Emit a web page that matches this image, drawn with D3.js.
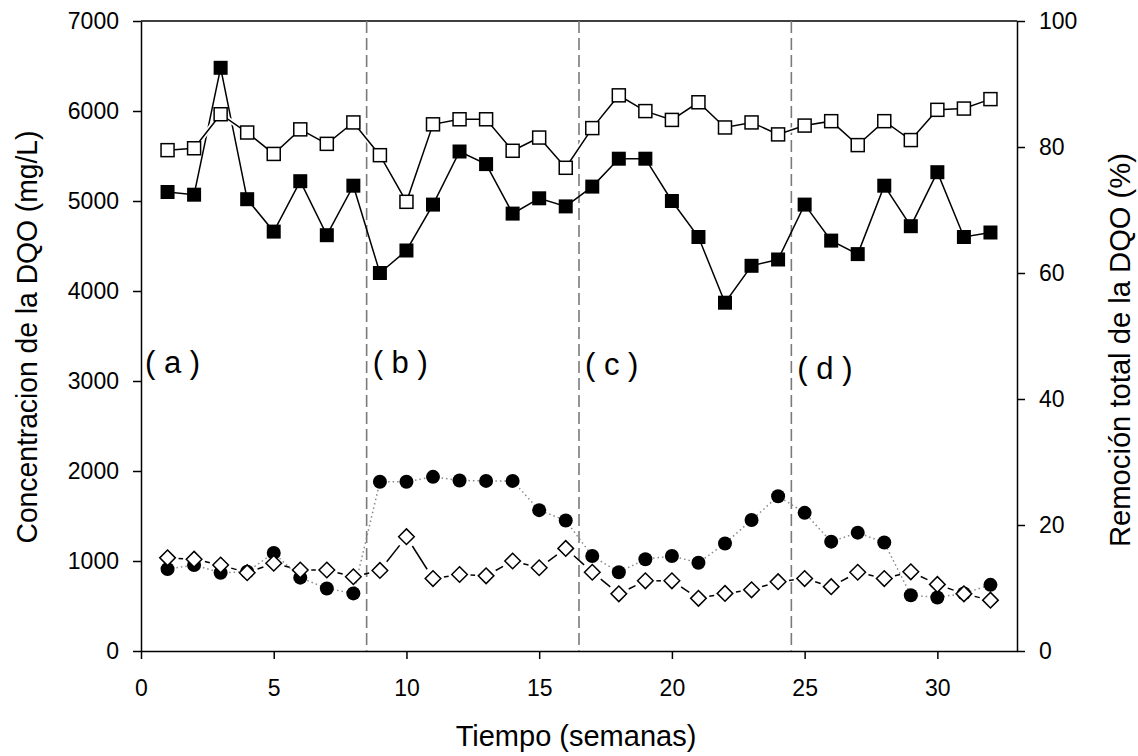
<!DOCTYPE html>
<html>
<head>
<meta charset="utf-8">
<script src="https://cdn.jsdelivr.net/npm/d3@7"></script>
<style>
  html, body { margin: 0; padding: 0; background: #fff; }
  svg text { font-family: "Liberation Sans", Arial, sans-serif; fill: #000; }
</style>
</head>
<body>
<svg id="chart" width="1138" height="756"></svg>
<script>
// ---- data ----
const weeks = [1,2,3,4,5,6,7,8,9,10,11,12,13,14,15,16,17,18,19,20,21,22,23,24,25,26,27,28,29,30,31,32];
// filled squares: influent DQO (mg/L), left axis
const dqoInfluent = [5100,5070,6480,5020,4660,5220,4620,5170,4200,4450,4960,5550,5410,4860,5030,4940,
                     5160,5470,5470,5000,4600,3870,4280,4350,4960,4560,4410,5170,4720,5320,4600,4650];
// open squares: total DQO removal (%), right axis
const removalPct = [79.5,79.8,85.2,82.3,78.9,82.8,80.5,83.9,78.7,71.3,83.6,84.4,84.4,79.4,81.5,76.7,
                    83.0,88.2,85.7,84.3,87.1,83.1,83.9,82.0,83.4,84.1,80.3,84.1,81.1,85.9,86.1,87.6];
// filled circles: DQO (mg/L), left axis
const dqoCircles = [910,955,870,880,1090,815,695,640,1880,1880,1935,1895,1890,1890,1565,1450,
                    1055,875,1020,1055,980,1195,1455,1720,1535,1215,1315,1205,620,595,640,735];
// open diamonds: DQO (mg/L), left axis
const dqoDiamonds = [1035,1020,955,870,975,900,900,825,895,1270,805,850,835,1000,925,1140,
                     875,635,780,780,585,640,680,770,805,715,875,805,880,740,635,565];
// phase boundaries and labels
const phaseStarts = [0, 8.5, 16.5, 24.5];
const phaseLabels = ["( a )", "( b )", "( c )", "( d )"];
const dividers = [8.5, 16.5, 24.5];
const xTicks = [0,5,10,15,20,25,30];
const yLeftTicks = [0,1000,2000,3000,4000,5000,6000,7000];
const yRightTicks = [0,20,40,60,80,100];

// ---- layout ----
const L = 141, R = 1017, T = 21, B = 651;
const svg = d3.select("#chart");
const x = d3.scaleLinear().domain([0,33]).range([L,R]);
const yL = d3.scaleLinear().domain([0,7000]).range([B,T]);
const yR = d3.scaleLinear().domain([0,100]).range([B,T]);

// frame top line
svg.append("line").attr("x1",L).attr("x2",R).attr("y1",T).attr("y2",T)
   .attr("stroke","#000").attr("stroke-width",1.5);

// axes
function styleAxis(g){
  g.selectAll(".domain").attr("stroke","#000").attr("stroke-width",1.5);
  g.selectAll(".tick line").attr("stroke","#000").attr("stroke-width",1.5);
  g.selectAll(".tick text").style("font-size","23px")
    .style("font-family","'Liberation Sans', Arial, sans-serif");
}
svg.append("g").attr("transform",`translate(0,${B})`)
  .call(d3.axisBottom(x).tickValues(xTicks).tickFormat(d3.format("d")).tickSize(8).tickSizeOuter(0).tickPadding(21))
  .call(styleAxis);
svg.append("g").attr("transform",`translate(${L},0)`)
  .call(d3.axisLeft(yL).tickValues(yLeftTicks).tickFormat(d3.format("d")).tickSize(8).tickSizeOuter(0).tickPadding(14))
  .call(styleAxis);
svg.append("g").attr("transform",`translate(${R},0)`)
  .call(d3.axisRight(yR).tickValues(yRightTicks).tickFormat(d3.format("d")).tickSize(8).tickSizeOuter(0).tickPadding(14))
  .call(styleAxis);

// dashed phase dividers
svg.append("g").selectAll("line").data(dividers).join("line")
  .attr("x1",d=>x(d)).attr("x2",d=>x(d)).attr("y1",T).attr("y2",B)
  .attr("stroke","#7a7a7a").attr("stroke-width",1.6).attr("stroke-dasharray","12,5");

// phase labels
svg.append("g").selectAll("text").data(phaseStarts).join("text")
  .attr("x",(d,i)=> i===0 ? x(d)+4 : x(d)+6)
  .attr("y",(d,i)=> [373,373,375,379][i])
  .style("font-size","31px")
  .text((d,i)=>phaseLabels[i]);

const pts = (vals, ys) => weeks.map((w,i)=>[x(w), ys(vals[i])]);
const line = d3.line();

// filled circles: dotted gray line
const pC = pts(dqoCircles, yL);
svg.append("path").attr("d",line(pC)).attr("fill","none")
  .attr("stroke","#8a8a8a").attr("stroke-width",1.5).attr("stroke-dasharray","1.5,3");
svg.append("g").selectAll("circle").data(pC).join("circle")
  .attr("cx",d=>d[0]).attr("cy",d=>d[1]).attr("r",7).attr("fill","#000");

// open diamonds: solid line with gaps at markers
const pD = pts(dqoDiamonds, yL);
const gap = 11;
const segs = d3.pairs(pD).map(([a,b])=>{
  const dx=b[0]-a[0], dy=b[1]-a[1], len=Math.hypot(dx,dy);
  if(len <= 2*gap) return null;
  const ux=dx/len, uy=dy/len;
  return [[a[0]+ux*gap,a[1]+uy*gap],[b[0]-ux*gap,b[1]-uy*gap]];
}).filter(s=>s);
svg.append("g").selectAll("path").data(segs).join("path")
  .attr("d",d=>line(d)).attr("fill","none").attr("stroke","#000").attr("stroke-width",1.5);
const rD = 7.8;
svg.append("g").selectAll("path").data(pD).join("path")
  .attr("d",d=>`M${d[0]},${d[1]-rD}L${d[0]+rD},${d[1]}L${d[0]},${d[1]+rD}L${d[0]-rD},${d[1]}Z`)
  .attr("fill","#fff").attr("stroke","#000").attr("stroke-width",1.5);

// filled squares: solid line
const pF = pts(dqoInfluent, yL);
svg.append("path").attr("d",line(pF)).attr("fill","none").attr("stroke","#000").attr("stroke-width",1.5);
svg.append("g").selectAll("rect").data(pF).join("rect")
  .attr("x",d=>d[0]-7).attr("y",d=>d[1]-7).attr("width",14).attr("height",14).attr("fill","#000");

// open squares: solid line, right axis
const pO = pts(removalPct, yR);
svg.append("path").attr("d",line(pO)).attr("fill","none").attr("stroke","#fff").attr("stroke-width",5);
svg.append("path").attr("d",line(pO)).attr("fill","none").attr("stroke","#000").attr("stroke-width",1.5);
svg.append("g").selectAll("rect").data(pO).join("rect")
  .attr("x",d=>d[0]-6.5).attr("y",d=>d[1]-6.5).attr("width",13).attr("height",13)
  .attr("fill","#fff").attr("stroke","#000").attr("stroke-width",1.5);

// axis titles
svg.append("text").attr("x",(L+R)/2 - 3).attr("y",746).attr("text-anchor","middle")
  .style("font-size","29px").text("Tiempo (semanas)");
svg.append("text").attr("transform","translate(37,337) rotate(-90)").attr("text-anchor","middle")
  .attr("textLength",413).attr("lengthAdjust","spacingAndGlyphs")
  .style("font-size","29px").text("Concentracion de la DQO (mg/L)");
svg.append("text").attr("transform","translate(1130,350) rotate(-90)").attr("text-anchor","middle")
  .attr("textLength",394).attr("lengthAdjust","spacingAndGlyphs")
  .style("font-size","29px").text("Remoción total de la DQO (%)");
</script>
</body>
</html>
